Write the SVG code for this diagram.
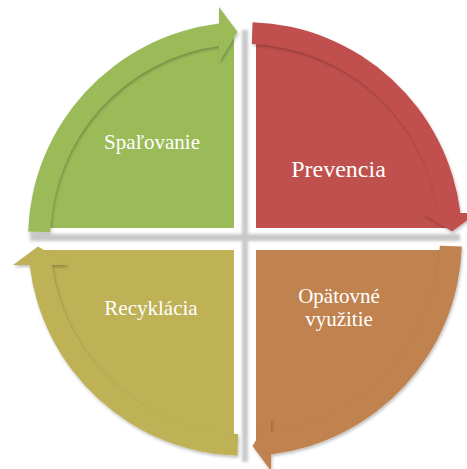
<svg xmlns="http://www.w3.org/2000/svg" xmlns:xlink="http://www.w3.org/1999/xlink" width="467" height="469" viewBox="0 0 467 469">
  <style>
    .lbl { font-family: "Liberation Serif", "DejaVu Serif", serif; fill: #ffffff; text-anchor: middle; }
    .s21 { font-size: 21px; }
    .s24 { font-size: 24px; }
  </style>
  <defs>
    <!-- soft shadow under the curved arrows -->
    <filter id="arrowShadow" x="-10%" y="-10%" width="120%" height="120%">
      <feDropShadow dx="1" dy="2" stdDeviation="1.5" flood-color="#000000" flood-opacity="0.25"/>
    </filter>
    <filter id="blur" x="-20%" y="-20%" width="140%" height="140%">
      <feGaussianBlur stdDeviation="1.6"/>
    </filter>
    <!-- one curved arrow around centre (245,239); rotated for each quarter -->
    <path id="arrow" d="M 28.13 231.43 A 217 217 0 0 1 219 23.56 L 219 7 L 237.5 32 L 219 62 L 219 45.74 A 195 195 0 0 0 50.12 232.19 Z"/>
  </defs>

  <rect width="467" height="469" fill="#ffffff"/>

  <!-- shading visible through the gaps -->
  <g id="gap-shadows" filter="url(#blur)" fill="#c8c8c8">
    <rect x="30" y="234" width="430" height="7"/>
    <rect x="242" y="30" width="6" height="432"/>
  </g>

  <g id="spalovanie">
    <path d="M 234 228 L 34 228 A 200 200 0 0 1 234 28 Z" fill="#9BBB59"/>
    <g filter="url(#arrowShadow)"><use xlink:href="#arrow" fill="#9BBB59"/></g>
    <text class="lbl s21" x="152" y="149" font-family="Liberation Serif, serif">Spaľovanie</text>
  </g>

  <g id="prevencia">
    <path d="M 256 228 L 256 28 A 200 200 0 0 1 456 228 Z" fill="#C0504D"/>
    <g filter="url(#arrowShadow)"><use xlink:href="#arrow" fill="#C0504D" transform="rotate(90 245 239)"/></g>
    <text class="lbl s24" x="338.5" y="177" font-family="Liberation Serif, serif">Prevencia</text>
  </g>

  <g id="opatovne-vyuzitie">
    <path d="M 256 250 L 456 250 A 200 200 0 0 1 256 450 Z" fill="#C0824F"/>
    <g filter="url(#arrowShadow)"><use xlink:href="#arrow" fill="#C0824F" transform="rotate(180 245 239)"/></g>
    <text class="lbl s21" x="339" y="303" font-family="Liberation Serif, serif">Opätovné</text>
    <text class="lbl s21" x="339" y="326" font-family="Liberation Serif, serif">využitie</text>
  </g>

  <g id="recyklacia">
    <path d="M 234 250 L 234 450 A 200 200 0 0 1 34 250 Z" fill="#BEB156"/>
    <g filter="url(#arrowShadow)"><use xlink:href="#arrow" fill="#BEB156" transform="rotate(270 245 239)"/></g>
    <text class="lbl s21" x="151" y="315" font-family="Liberation Serif, serif">Recyklácia</text>
  </g>
</svg>
